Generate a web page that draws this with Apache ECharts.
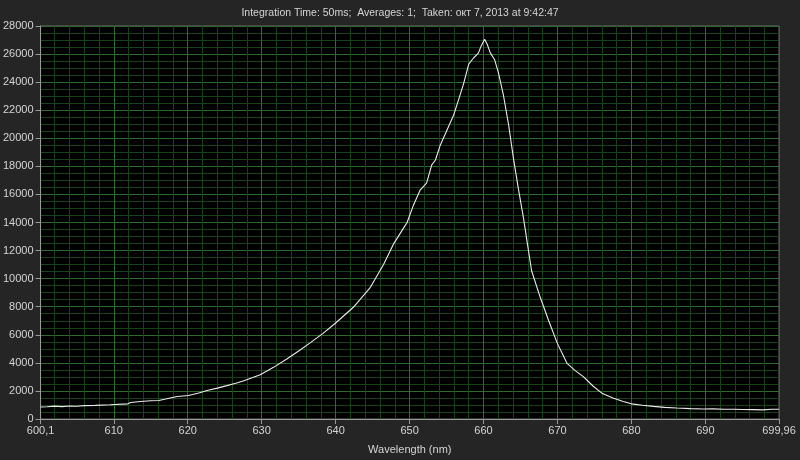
<!DOCTYPE html>
<html>
<head>
<meta charset="utf-8">
<script src="https://cdn.jsdelivr.net/npm/echarts@6/dist/echarts.min.js"></script>
<style>
html,body{margin:0;padding:0;background:#252525;}
#c{width:800px;height:460px;}
</style>
</head>
<body>
<div id="c"></div>
<script>
const TITLE = "Integration Time: 50ms;  Averages: 1;  Taken: окт 7, 2013 at 9:42:47";
const X_NAME = "Wavelength (nm)";
const X_MIN = 600.1;
const X_MAX = 699.96;
const X_TICKS = [600.1, 610, 620, 630, 640, 650, 660, 670, 680, 690, 699.96];
const X_MINOR = [602,604,606,608,612,614,616,618,622,624,626,628,632,634,636,638,642,644,646,648,652,654,656,658,662,664,666,668,672,674,676,678,682,684,686,688,692,694,696,698];
const Y_MIN = 0, Y_MAX = 28000, Y_STEP = 2000;

const wavelength = [600.1, 601, 602, 603, 604, 605, 606, 607.5, 609.5, 611.9, 612.3, 613.6, 615, 616.1, 617, 618.6, 620.1, 621.5, 622.6, 624, 625.3, 626.5, 627.6, 628.8, 629.8, 631.6, 633.4, 635, 636.6, 638.3, 640, 642.4, 644.7, 646.5, 647.8, 649.2, 649.65, 650.55, 651.45, 652.3, 653.0, 653.5, 654.15, 654.96, 655.95, 656.6, 657.3, 658, 658.65, 659.3, 659.7, 660.15, 660.5, 660.9, 661.5, 662.0, 662.7, 663.4, 664.05, 664.7, 665.4, 665.95, 666.5, 667.67, 668.8, 670.0, 671.3, 672.4, 673.5, 674.8, 676.0, 677.5, 678.9, 680, 681.5, 683, 684.5, 686.1, 688, 689.7, 691, 692.5, 693.8, 695, 696.5, 697.8, 699, 699.96];
const intensity = [850, 870, 920, 880, 930, 910, 950, 970, 1010, 1080, 1170, 1250, 1300, 1320, 1420, 1600, 1670, 1850, 2030, 2200, 2380, 2550, 2730, 2950, 3160, 3680, 4270, 4850, 5440, 6100, 6840, 7960, 9380, 11030, 12440, 13620, 13980, 15270, 16330, 16810, 18100, 18450, 19510, 20460, 21640, 22700, 23880, 25290, 25720, 26070, 26600, 27060, 26700, 26100, 25600, 24700, 23050, 20930, 18570, 16450, 14330, 12440, 10560, 8670, 7020, 5370, 3960, 3450, 3020, 2350, 1840, 1500, 1250, 1080, 980, 900, 830, 780, 740, 710, 720, 690, 690, 680, 670, 650, 690, 690];

const points = wavelength.map((w, i) => [w, intensity[i]]);

const TXT = '#d4d4d4';
const AXIS = '#9a9a9a';
const MAJOR = '#2f6a2f';
const MINOR = '#1a421a';
const FONT = 'Liberation Sans';

const chart = echarts.init(document.getElementById('c'), null, {renderer: 'canvas'});
chart.setOption({
  backgroundColor: '#252525',
  animation: false,
  title: {
    text: TITLE, left: 'center', top: 3,
    textStyle: {color: TXT, fontSize: 10.5, fontWeight: 'normal', fontFamily: FONT}
  },
  grid: {
    left: 40, right: 21, top: 26, bottom: 38,
    show: true, backgroundColor: '#000', borderColor: '#6a6a6a', borderWidth: 1
  },
  xAxis: [
    {
      type: 'value', min: X_MIN, max: X_MAX, position: 'bottom',
      axisLine: {show: false}, axisLabel: {show: false},
      axisTick: {show: false, customValues: X_MINOR},
      splitLine: {show: true, lineStyle: {color: MINOR, width: 1}}
    },
    {
      type: 'value', min: X_MIN, max: X_MAX, position: 'bottom',
      name: X_NAME, nameLocation: 'middle', nameGap: 25,
      nameTextStyle: {color: TXT, fontSize: 11, fontFamily: FONT},
      axisLine: {show: true, onZero: false, lineStyle: {color: AXIS}},
      axisTick: {show: true, length: 5, customValues: X_TICKS, lineStyle: {color: AXIS}},
      axisLabel: {
        show: true, customValues: X_TICKS, color: TXT, fontSize: 11, fontFamily: FONT, margin: 6,
        formatter: v => String(v).replace('.', ',')
      },
      splitLine: {show: true, lineStyle: {color: MAJOR, width: 1}}
    }
  ],
  yAxis: {
    type: 'value', min: Y_MIN, max: Y_MAX, interval: Y_STEP,
    axisLine: {show: true, lineStyle: {color: AXIS}},
    axisTick: {show: true, length: 5, lineStyle: {color: AXIS}},
    axisLabel: {color: TXT, fontSize: 11, fontFamily: FONT, margin: 7, formatter: v => String(v)},
    splitLine: {show: true, lineStyle: {color: MAJOR, width: 1}},
    minorTick: {show: false, splitNumber: 4},
    minorSplitLine: {show: true, lineStyle: {color: MINOR, width: 1}}
  },
  series: [{
    type: 'line', xAxisIndex: 1, data: points,
    showSymbol: false, symbol: 'none',
    lineStyle: {color: '#ececec', width: 1.1}
  }]
});
</script>
</body>
</html>
